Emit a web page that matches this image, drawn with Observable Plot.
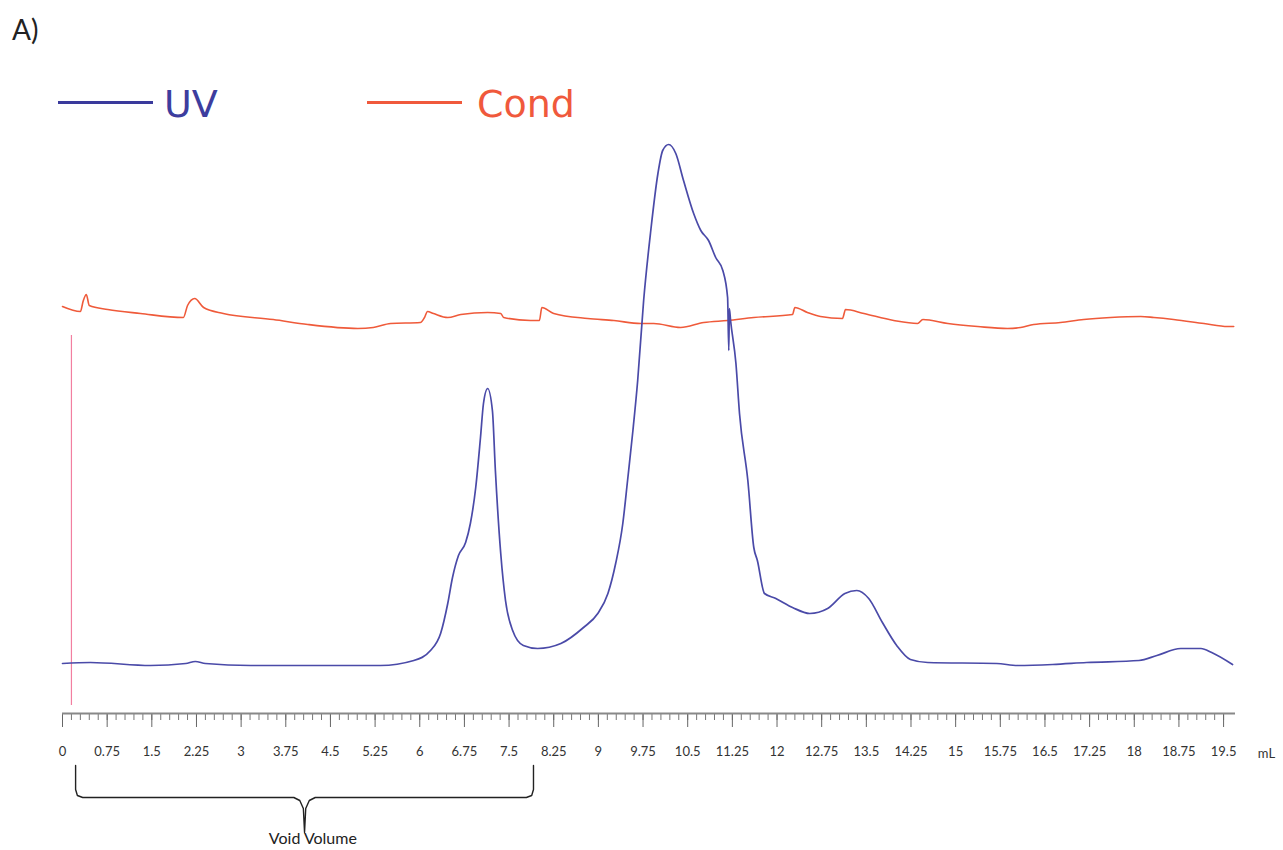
<!DOCTYPE html>
<html>
<head>
<meta charset="utf-8">
<script src="https://cdn.jsdelivr.net/npm/d3@7"></script>
<script src="https://cdn.jsdelivr.net/npm/@observablehq/plot@0.6"></script>
<style>
  html, body { margin: 0; padding: 0; background: #fff; }
  #header { position: relative; width: 1283px; height: 130px; }
  #header .panel { position: absolute; left: 12px; top: 15px; font: 28px Lato, sans-serif; line-height: 1; color: #222; }
  #header .swatch { position: absolute; height: 3px; width: 95px; top: 101px; }
  #header .lab { position: absolute; top: 85px; font: 38px "DejaVu Sans", sans-serif; line-height: 1; }
  svg { display: block; }
</style>
</head>
<body>
<div id="header">
  <div class="panel">A)</div>
  <div class="swatch" style="left:58px;background:#3a3a9c"></div>
  <div class="lab" style="left:164px;color:#3d3d9e">UV</div>
  <div class="swatch" style="left:367px;background:#f0593c"></div>
  <div class="lab" style="left:477px;color:#f0593c">Cond</div>
</div>
<div id="chart"></div>
<script>
// ---- Data (elution volume in mL, detector signal in arbitrary units) ----
const uvVolume = [0.00, 0.47, 1.48, 2.07, 2.23, 2.40, 3.16, 5.34, 5.90, 6.18, 6.35, 6.47, 6.55, 6.65, 6.77, 6.85, 6.94, 7.02, 7.07, 7.14, 7.22, 7.27, 7.36, 7.44, 7.56, 7.74, 7.98, 8.37, 8.75, 8.99, 9.16, 9.29, 9.41, 9.49, 9.58, 9.66, 9.76, 9.88, 10.00, 10.08, 10.18, 10.30, 10.43, 10.60, 10.72, 10.85, 10.97, 11.09, 11.17, 11.19, 11.20, 11.22, 11.31, 11.37, 11.51, 11.61, 11.67, 11.79, 11.98, 12.26, 12.55, 12.85, 13.14, 13.34, 13.54, 13.77, 14.01, 14.24, 14.53, 15.69, 16.04, 16.63, 17.20, 18.08, 18.38, 18.78, 19.12, 19.30, 19.65];
const uvSignal = [0, 1, -2, 0, 2, 0, -2, -2, 3, 13, 30, 60, 86, 108, 121, 140, 176, 226, 260, 275, 253, 193, 110, 63, 33, 18, 15, 20, 36, 50, 70, 100, 140, 183, 233, 283, 363, 433, 490, 513, 519, 510, 483, 450, 433, 423, 406, 393, 366, 313, 355, 343, 300, 250, 183, 116, 103, 70, 65, 56, 50, 55, 70, 73, 65, 41, 18, 4, 1, 0, -2, -1, 1, 3, 8, 15, 15, 11, -1];

const condVolume = [0.00, 0.30, 0.35, 0.40, 0.45, 0.76, 1.31, 2.03, 2.10, 2.22, 2.37, 2.70, 3.54, 4.12, 4.96, 5.22, 5.51, 6.01, 6.08, 6.13, 6.23, 6.47, 6.69, 7.14, 7.36, 7.41, 7.86, 8.01, 8.05, 8.25, 8.82, 9.26, 9.71, 9.93, 10.38, 10.77, 11.17, 11.61, 12.26, 12.30, 12.51, 12.73, 13.10, 13.15, 13.46, 13.96, 14.36, 14.45, 14.87, 15.37, 15.87, 16.09, 16.31, 16.76, 17.15, 17.60, 18.11, 18.33, 18.66, 19.17, 19.57, 19.67];
const condSignal = [357, 352, 363, 369, 358, 354, 350, 346, 358, 365, 356, 350, 344, 339, 335, 336, 340, 341, 346, 352, 350, 346, 349, 351, 350, 346, 343, 343, 356, 350, 345, 343, 340, 340, 336, 341, 343, 346, 349, 356, 351, 347, 345, 354, 350, 343, 340, 344, 340, 337, 335, 336, 339, 341, 344, 346, 347, 346, 344, 340, 337, 337];

const tickLabels = ["0", "0.75", "1.5", "2.25", "3", "3.75", "4.5", "5.25", "6", "6.75", "7.5", "8.25", "9", "9.75", "10.5", "11.25", "12", "12.75", "13.5", "14.25", "15", "15.75", "16.5", "17.25", "18", "18.75", "19.5"];
const unitLabel = "mL";
const injectionVolume = [0.15];
const voidVolumeRange = [0.22, 7.91];
const voidVolumeLabel = "Void Volume";

// ---- Build tables ----
const uv = uvVolume.map((v, i) => ({volume: v, signal: uvSignal[i]}));
const cond = condVolume.map((v, i) => ({volume: v, signal: condSignal[i]}));
const majorTicks = tickLabels.map(Number);
const labelOf = new Map(majorTicks.map((t, i) => [t, tickLabels[i]]));
const minorTicks = d3.range(0, 131).map(i => +(i * 0.15).toFixed(2)).filter(t => t <= 19.66);

const yAxisLevel = -50;
const [v0, v1] = voidVolumeRange;
const vm = (v0 + v1) / 2;
const bracket = [
  [v0, -102], [v0, -126], [v0 + 0.03, -132], [v0 + 0.12, -134], [vm - 0.18, -134], [vm - 0.08, -137], [vm - 0.02, -145], [vm, -169],
  [vm + 0.02, -145], [vm + 0.08, -137], [vm + 0.18, -134], [v1 - 0.12, -134], [v1 - 0.03, -132], [v1, -126], [v1, -102]
].map(([x, y]) => ({x, y}));

const plot = Plot.plot({
  width: 1283,
  height: 720,
  marginLeft: 62,
  marginRight: 48,
  marginTop: 10,
  marginBottom: 137,
  x: {domain: [0, 19.7]},
  y: {domain: [yAxisLevel, 523], axis: null},
  style: {fontFamily: "Lato, sans-serif", fontSize: "13px", color: "#333", background: "white"},
  marks: [
    Plot.axisX({ticks: minorTicks, tickSize: 7, tickFormat: () => "", label: null, stroke: "#777"}),
    Plot.axisX({ticks: majorTicks, tickSize: 14, tickPadding: 19, tickFormat: d => labelOf.get(d), label: null, stroke: "#666", fill: "#333"}),
    Plot.ruleY([{y: yAxisLevel, x1: 0, x2: 19.7}], {y: "y", x1: "x1", x2: "x2", stroke: "#888", strokeWidth: 2}),
    Plot.text([{x: 20.22, t: unitLabel}], {x: "x", y: () => yAxisLevel, text: "t", dy: 40, fontSize: 13, fill: "#333"}),
    Plot.ruleX(injectionVolume, {x: d => d, y1: -42, y2: 328, stroke: "#f27fa0", strokeWidth: 1.2}),
    Plot.line(cond, {x: "volume", y: "signal", stroke: "#ef5a3a", strokeWidth: 1.6, curve: "monotone-x"}),
    Plot.line(uv, {x: "volume", y: "signal", stroke: "#4a4aa8", strokeWidth: 1.7, curve: "monotone-x"}),
    Plot.line(bracket, {x: "x", y: "y", stroke: "#222", strokeWidth: 1.4, curve: "linear"}),
    Plot.text([{x: vm + 0.14, t: voidVolumeLabel}], {x: "x", y: () => -175, text: "t", fontSize: 16, fill: "#222"})
  ]
});
document.getElementById("chart").append(plot);
</script>
</body>
</html>
